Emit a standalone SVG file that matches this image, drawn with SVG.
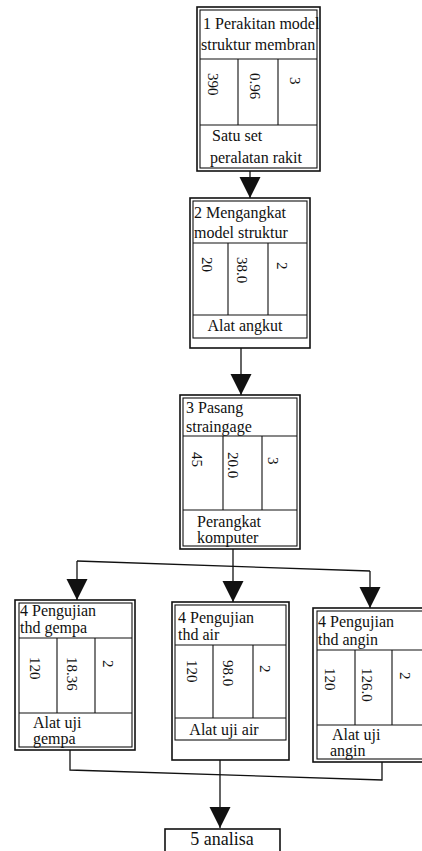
<svg xmlns="http://www.w3.org/2000/svg" width="422" height="851" viewBox="0 0 422 851">
<style>
.bg{fill:#ffffff}
.frame{fill:none;stroke:#111;stroke-width:1.6}
.tbl{fill:none;stroke:#111;stroke-width:1.1}
.t{font-family:"Liberation Serif","Times New Roman",serif;font-size:16px;fill:#111}
.n{font-size:15px}
.big{font-size:18px}
.c{fill:none;stroke:#111;stroke-width:1.3}
</style>
<defs>
<marker id="ah" markerUnits="userSpaceOnUse" markerWidth="22" markerHeight="22" refX="21" refY="10.5" orient="auto">
<path d="M0,0 L21,10.5 L0,21 z" fill="#111"/>
</marker>
</defs>
<rect class="bg" x="0" y="0" width="422" height="851"/>

<g id="connectors">
<path class="c" d="M250,171 L250,198" marker-end="url(#ah)"/>
<path class="c" d="M241,348 L241,395" marker-end="url(#ah)"/>
<path class="c" d="M233,549 L233,602" marker-end="url(#ah)"/>
<path class="c" d="M77,561 L370,571"/>
<path class="c" d="M77,561 L77,600" marker-end="url(#ah)"/>
<path class="c" d="M370,571 L370,608" marker-end="url(#ah)"/>
<path class="c" d="M70,750 L70,770 L382,780 L382,762"/>
<path class="c" d="M220,760 L220,828" marker-end="url(#ah)"/>
</g>

<g id="n1">
<rect class="frame" x="197" y="7" width="123" height="164"/>
<rect class="tbl" x="200" y="10" width="117" height="158"/>
<path class="tbl" d="M200,59 H317 M200,125 H317 M238,59 V125 M278,59 V125"/>
<text class="t" x="203" y="29">1 Perakitan model</text>
<text class="t" x="201" y="50">struktur membran</text>
<text class="t n" transform="translate(208,73) rotate(90)">390</text>
<text class="t n" transform="translate(250,73) rotate(90)">0.96</text>
<text class="t n" transform="translate(290,77) rotate(90)">3</text>
<text class="t" x="212" y="141">Satu set</text>
<text class="t" x="210" y="163">peralatan rakit</text>
</g>

<g id="n2">
<rect class="frame" x="190" y="198" width="120" height="150"/>
<rect class="tbl" x="193" y="201" width="114" height="137"/>
<path class="tbl" d="M193,243 H307 M193,315 H307 M228,243 V315 M268,243 V315"/>
<text class="t" x="194" y="218">2 Mengangkat</text>
<text class="t" x="194" y="238">model struktur</text>
<text class="t n" transform="translate(202,257) rotate(90)">20</text>
<text class="t n" transform="translate(237,257) rotate(90)">38.0</text>
<text class="t n" transform="translate(277,262) rotate(90)">2</text>
<text class="t" x="245" y="331" text-anchor="middle">Alat angkut</text>
</g>

<g id="n3">
<rect class="frame" x="180" y="395" width="120" height="154"/>
<rect class="tbl" x="183" y="398" width="114" height="148"/>
<path class="tbl" d="M183,436 H297 M183,510 H297 M223,436 V510 M262,436 V510"/>
<text class="t" x="186" y="413">3 Pasang</text>
<text class="t" x="186" y="432">straingage</text>
<text class="t n" transform="translate(192,452) rotate(90)">45</text>
<text class="t n" transform="translate(228,452) rotate(90)">20.0</text>
<text class="t n" transform="translate(268,457) rotate(90)">3</text>
<text class="t" x="197" y="527">Perangkat</text>
<text class="t" x="197" y="543">komputer</text>
</g>

<g id="n4a">
<rect class="frame" x="15" y="600" width="120" height="150"/>
<rect class="tbl" x="19" y="603" width="113" height="144"/>
<path class="tbl" d="M19,638 H132 M19,713 H132 M57,638 V713 M95,638 V713"/>
<text class="t" x="20" y="616">4 Pengujian</text>
<text class="t" x="20" y="633">thd gempa</text>
<text class="t n" transform="translate(30,657) rotate(90)">120</text>
<text class="t n" transform="translate(67,657) rotate(90)">18.36</text>
<text class="t n" transform="translate(103,660) rotate(90)">2</text>
<text class="t" x="33" y="728">Alat uji</text>
<text class="t" x="33" y="744">gempa</text>
</g>

<g id="n4b">
<rect class="frame" x="172" y="602" width="117" height="158"/>
<rect class="tbl" x="175" y="605" width="111" height="135"/>
<path class="tbl" d="M175,645 H286 M175,718 H286 M213,645 V718 M253,645 V718"/>
<text class="t" x="178" y="623">4 Pengujian</text>
<text class="t" x="178" y="640">thd air</text>
<text class="t n" transform="translate(187,660) rotate(90)">120</text>
<text class="t n" transform="translate(223,660) rotate(90)">98.0</text>
<text class="t n" transform="translate(260,665) rotate(90)">2</text>
<text class="t" x="224" y="735" text-anchor="middle">Alat uji air</text>
</g>

<g id="n4c">
<rect class="frame" x="313" y="608" width="120" height="154"/>
<rect class="tbl" x="317" y="611" width="113" height="148"/>
<path class="tbl" d="M317,650 H430 M317,725 H430 M355,650 V725 M392,650 V725"/>
<text class="t" x="318" y="627">4 Pengujian</text>
<text class="t" x="318" y="645">thd angin</text>
<text class="t n" transform="translate(325,668) rotate(90)">120</text>
<text class="t n" transform="translate(362,668) rotate(90)">126.0</text>
<text class="t n" transform="translate(400,672) rotate(90)">2</text>
<text class="t" x="332" y="740">Alat uji</text>
<text class="t" x="330" y="756">angin</text>
</g>

<g id="n5">
<rect class="frame" x="165" y="829" width="115" height="30"/>
<text class="t big" x="222" y="845" text-anchor="middle">5 analisa</text>
</g>
</svg>
